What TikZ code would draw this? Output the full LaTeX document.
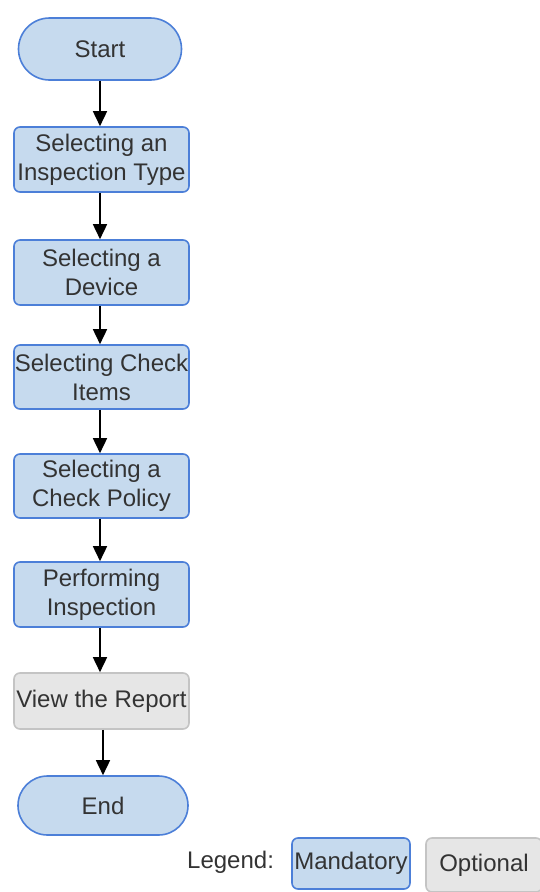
\documentclass[tikz,border=0pt]{standalone}
\usepackage{fontspec}
\setmainfont{Liberation Sans}
\usetikzlibrary{arrows.meta,shapes.misc}
\definecolor{mandfill}{HTML}{C6DAEE}
\definecolor{manddraw}{HTML}{4C7FD8}
\definecolor{optfill}{HTML}{E6E6E6}
\definecolor{optdraw}{HTML}{C4C4C4}
\definecolor{txt}{HTML}{333333}
\tikzset{
  base/.style={font=\fontsize{24}{29}\selectfont, text=txt, align=center, inner sep=0pt},
  mandbox/.style={base, draw=manddraw, fill=mandfill, line width=1.6pt, rounded corners=6pt},
  optbox/.style={base, draw=optdraw, fill=optfill, line width=1.6pt, rounded corners=6pt},
  terminal/.style={base, draw=manddraw, fill=mandfill, line width=1.6pt, rounded rectangle},
  flow/.style={line width=1.6pt, -{Triangle[width=14pt,length=15pt]}},
}
\begin{document}
\begin{tikzpicture}[x=1pt,y=-1pt]
  \useasboundingbox (0,0) rectangle (540,892);
  % process chain
  \node[terminal, minimum width=163pt, minimum height=62pt] (start) at (100,49) {Start};
  \node[mandbox, minimum width=175pt, minimum height=65pt] (type) at (101.5,159.5) {Selecting an\\Inspection Type};
  \node[mandbox, minimum width=175pt, minimum height=65pt] (device) at (101.5,272.5) {Selecting a\\Device};
  \node[mandbox, minimum width=175pt, minimum height=64pt] (items) at (101.5,377) {Selecting Check\\Items};
  \node[mandbox, minimum width=175pt, minimum height=64pt] (policy) at (101.5,486) {Selecting a\\Check Policy};
  \node[mandbox, minimum width=175pt, minimum height=65pt] (perform) at (101.5,594.5) {Performing\\Inspection};
  \node[optbox, minimum width=175pt, minimum height=56pt] (report) at (101.5,701) {View the Report};
  \node[terminal, minimum width=170pt, minimum height=59pt] (end) at (103,805.5) {End};
  % connectors
  \draw[flow] (start.south -| 100,0) -- (type.north -| 100,0);
  \draw[flow] (type.south -| 100,0) -- (device.north -| 100,0);
  \draw[flow] (device.south -| 100,0) -- (items.north -| 100,0);
  \draw[flow] (items.south -| 100,0) -- (policy.north -| 100,0);
  \draw[flow] (policy.south -| 100,0) -- (perform.north -| 100,0);
  \draw[flow] (perform.south -| 100,0) -- (report.north -| 100,0);
  \draw[flow] (report.south -| 103,0) -- (end.north -| 103,0);
  % legend
  \node[base, anchor=west] (legend) at (187,862) {Legend:};
  \node[mandbox, minimum width=118pt, minimum height=51pt] (mand) at (351,863.5) {Mandatory};
  \node[optbox, minimum width=116pt, minimum height=54pt] (opt) at (484,865) {Optional};
\end{tikzpicture}
\end{document}
